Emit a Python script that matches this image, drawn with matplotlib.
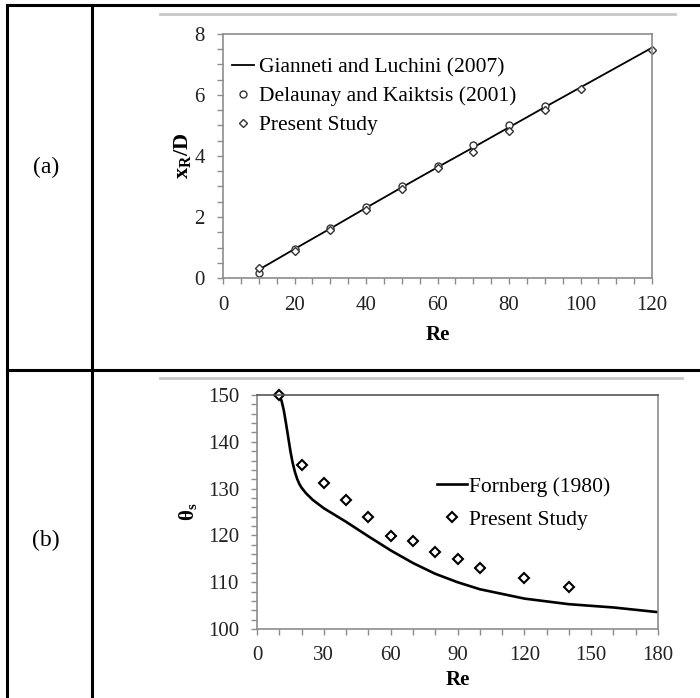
import matplotlib
matplotlib.use("Agg")
import matplotlib.pyplot as plt
from matplotlib.lines import Line2D
from matplotlib.ticker import MultipleLocator

plt.rcParams['font.family'] = ['Liberation Serif', 'DejaVu Serif']
plt.rcParams['mathtext.fontset'] = 'custom'
plt.rcParams['mathtext.rm'] = 'Liberation Serif'
plt.rcParams['mathtext.it'] = 'Liberation Serif:italic'
plt.rcParams['mathtext.bf'] = 'Liberation Serif:bold'

# (a) recirculation length
re_line_a = [10, 20, 30, 40, 50, 60, 70, 80, 90, 100, 110, 120]
xr_gianneti = [0.27, 0.95, 1.62, 2.3, 2.97, 3.63, 4.28, 4.94, 5.6, 6.25, 6.9, 7.55]
re_delaunay = [10, 20, 30, 40, 50, 60, 70, 80, 90]
xr_delaunay = [0.17, 0.96, 1.65, 2.34, 3.03, 3.67, 4.36, 5.02, 5.64]
re_present_a = [10, 20, 30, 40, 50, 60, 70, 80, 90, 100, 120]
xr_present = [0.32, 0.9, 1.57, 2.23, 2.92, 3.6, 4.14, 4.82, 5.51, 6.19, 7.48]

# (b) separation angle
re_fornberg = [10, 11, 12, 13, 14, 15, 16, 17, 18, 19, 20, 22, 25, 30, 40, 50, 60, 70, 80, 90, 100, 120, 140, 160, 180]
theta_fornberg = [150, 148.8, 146.8, 144, 141, 138, 135.5, 133.6, 132.1, 131, 130.2, 129, 127.6, 125.8, 122.9, 119.8,
                  116.8, 114.1, 111.8, 110, 108.5, 106.5, 105.3, 104.6, 103.6]
re_present_b = [10, 20, 30, 40, 50, 60, 70, 80, 90, 100, 120, 140]
theta_present = [150, 135, 131.2, 127.6, 123.9, 119.9, 118.9, 116.4, 114.9, 113, 111, 108.9]

W, H = 700, 698
fig = plt.figure(figsize=(W / 100, H / 100), dpi=100)


def px(x0, y0, x1, y1):
    # pixel coords -> figure fractions
    return [x0 / W, x1 / W], [1 - y0 / H, 1 - y1 / H]


def hline(x0, x1, y, **kw):
    xs, ys = px(x0, y, x1, y)
    fig.add_artist(Line2D(xs, ys, transform=fig.transFigure, **kw))


def vline(x, y0, y1, **kw):
    xs, ys = px(x, y0, x, y1)
    fig.add_artist(Line2D(xs, ys, transform=fig.transFigure, **kw))


# table frame
tbl = dict(color='black', lw=2.2, solid_capstyle='projecting')
hline(7, 700, 5, **tbl)
hline(7, 700, 370, **tbl)
vline(7, 5, 698, **tbl)
vline(92, 5, 698, **tbl)

# thin grey rules above each chart
hline(160, 675, 14, color='#c8c8c8', lw=2)
hline(160, 682, 378, color='#c8c8c8', lw=2)

fig.text(46 / W, 1 - 167 / H, '(a)', fontsize=17, ha='center', va='center')
fig.text(46 / W, 1 - 540 / H, '(b)', fontsize=17, ha='center', va='center')


def style_axes(ax):
    for s in ax.spines.values():
        s.set_color('#8c8c8c')
        s.set_linewidth(1.2)
    ax.tick_params(which='both', direction='out', color='#8c8c8c', length=4, width=1,
                   labelsize=15, labelcolor='#222222', top=False, right=False)
    ax.tick_params(axis='y', pad=9)


# panel (a)
ax1 = fig.add_axes([223 / W, 1 - 278 / H, 429 / W, 244 / H])
ax1.plot(re_line_a, xr_gianneti, color='black', lw=1.3, label='Gianneti and Luchini (2007)')
ax1.plot(re_delaunay, xr_delaunay, ls='none', marker='o', ms=5, mfc='white', mec='#333333', mew=1,
         label='Delaunay and Kaiktsis (2001)')
ax1.plot(re_present_a, xr_present, ls='none', marker='D', ms=3.6, mfc='white', mec='#333333', mew=1,
         label='Present Study', clip_on=False)
ax1.set_xlim(0, 120)
ax1.set_ylim(0, 8)
ax1.xaxis.set_major_locator(MultipleLocator(20))
ax1.xaxis.set_minor_locator(MultipleLocator(5))
ax1.yaxis.set_major_locator(MultipleLocator(2))
ax1.yaxis.set_minor_locator(MultipleLocator(0.5))
style_axes(ax1)
ax1.tick_params(axis='x', pad=9)
ax1.set_xlabel('Re', fontsize=15, fontweight='bold', labelpad=7)
ax1.set_ylabel(r'$\mathbf{x_{R}/D}$', fontsize=16, labelpad=1)
ax1.legend(loc='upper left', bbox_to_anchor=(0.021, 0.905), frameon=False, fontsize=15.5,
           borderpad=0, handlelength=1.0, handletextpad=0.25, labelspacing=0.42, borderaxespad=0)

# panel (b)
ax2 = fig.add_axes([257 / W, 1 - 629 / H, 401 / W, 234 / H])
ax2.plot(re_fornberg, theta_fornberg, color='black', lw=1.9, label='Fornberg (1980)')
ax2.plot(re_present_b, theta_present, ls='none', marker='D', ms=5.3, mfc='white', mec='black', mew=1.5,
         label='Present Study', clip_on=False)
ax2.set_xlim(0, 180)
ax2.set_ylim(100, 150)
ax2.xaxis.set_major_locator(MultipleLocator(30))
ax2.xaxis.set_minor_locator(MultipleLocator(10))
ax2.yaxis.set_major_locator(MultipleLocator(10))
ax2.yaxis.set_minor_locator(MultipleLocator(2))
style_axes(ax2)
ax2.tick_params(axis='x', pad=8)
ax2.spines['top'].set_color('#555555')
ax2.set_xlabel('Re', fontsize=15, fontweight='bold', labelpad=4)
ax2.set_ylabel(r'$\mathbf{\theta_{s}}$', fontsize=15, labelpad=6)
ax2.legend(loc='upper left', bbox_to_anchor=(0.449, 0.65), frameon=False, fontsize=15.5,
           borderpad=0, handlelength=1.4, handletextpad=0.1, labelspacing=0.6, borderaxespad=0)

fig.savefig('out.png', dpi=100)
